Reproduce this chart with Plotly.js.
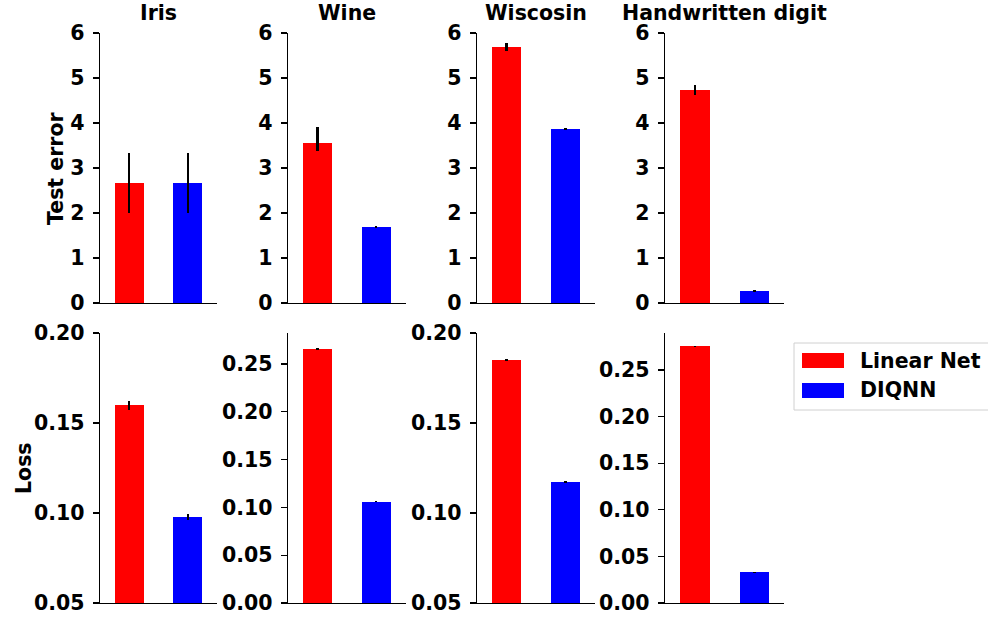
<!DOCTYPE html>
<html>
<head>
<meta charset="utf-8">
<script src="https://cdn.plot.ly/plotly-3.0.1.min.js"></script>
<style>html,body{margin:0;padding:0;background:#fff;}#chart{width:988px;height:617px;}</style>
</head>
<body>
<div id="chart"></div>
<script>
// ---- data ----
const datasets = ['Iris', 'Wine', 'Wiscosin', 'Handwritten digit'];
const seriesNames = ['Linear Net', 'DIQNN'];
const seriesColors = ['#ff0000', '#0000ff'];

const testErrLinear = [2.667, 3.556, 5.69, 4.73];
const testErrLinearPlus = [0.667, 0.36, 0.09, 0.11];
const testErrLinearMinus = [0.667, 0.18, 0.09, 0.11];
const testErrDiqnn = [2.667, 1.689, 3.86, 0.267];
const testErrDiqnnErr = [0.667, 0.02, 0.02, 0.02];

const lossLinear = [0.160, 0.266, 0.185, 0.2754];
const lossLinearErr = [0.0025, 0.001, 0.0003, 0.0005];
const lossDiqnn = [0.0978, 0.106, 0.1172, 0.033];
const lossDiqnnErr = [0.0018, 0.0005, 0.0005, 0.0005];

const testErrRange = [0, 6];
const lossRanges = [[0.05, 0.20], [0, 0.2824], [0.05, 0.20], [0, 0.2897]];
const rowLabels = ['Test error', 'Loss'];

// ---- layout geometry (pixels) ----
const W = 988, H = 617;
const colPx = [[100, 217], [288, 405.7], [477, 595], [665, 784.3]];
const rowPx = [[33, 303], [333, 603]];
const px = v => v / W;
const py = v => 1 - v / H;

const font = {family: 'DejaVu Sans', size: 20.5, color: '#000', weight: 'bold'};

const traces = [];
const layout = {
  width: W, height: H,
  margin: {l: 0, r: 0, t: 0, b: 0},
  paper_bgcolor: '#fff', plot_bgcolor: '#fff',
  showlegend: false,
  bargap: 0,
  font: font,
  annotations: [],
  shapes: []
};

function addPanel(idx, row, col, vals, errsPlus, errsMinus) {
  const n = idx + 1;
  const xa = 'x' + (n === 1 ? '' : n), ya = 'y' + (n === 1 ? '' : n);
  for (let s = 0; s < 2; s++) {
    traces.push({
      type: 'bar',
      x: [s], y: [vals[s]], width: 0.5,
      name: seriesNames[s],
      marker: {color: seriesColors[s], line: {width: 0}},
      error_y: {type: 'data', symmetric: false, array: [errsPlus[s]], arrayminus: [errsMinus[s]],
                width: 0, thickness: 2.2, color: '#000'},
      xaxis: xa, yaxis: ya, hoverinfo: 'y'
    });
  }
  const xKey = 'xaxis' + (n === 1 ? '' : n), yKey = 'yaxis' + (n === 1 ? '' : n);
  layout[xKey] = {
    domain: [px(colPx[col][0]), px(colPx[col][1])],
    anchor: ya, range: [-0.5, 1.5],
    showline: true, linecolor: '#000', linewidth: 1.3,
    showticklabels: false, ticks: '', showgrid: false, zeroline: false, fixedrange: true
  };
  const yr = row === 0 ? testErrRange : lossRanges[col];
  const yax = {
    domain: [py(rowPx[row][1]), py(rowPx[row][0])],
    anchor: xa, range: yr,
    showline: true, linecolor: '#000', linewidth: 1.3,
    ticks: 'outside', ticklen: 6, tickwidth: 1.3, tickcolor: '#000',
    showgrid: false, zeroline: false, fixedrange: true,
    tickfont: font, ticklabelstandoff: 4
  };
  if (row === 0) { yax.tickvals = [0, 1, 2, 3, 4, 5, 6]; }
  else { yax.tick0 = 0; yax.dtick = 0.05; yax.tickformat = '.2f'; }
  layout[yKey] = yax;
}

for (let c = 0; c < 4; c++) {
  addPanel(c, 0, c, [testErrLinear[c], testErrDiqnn[c]],
           [testErrLinearPlus[c], testErrDiqnnErr[c]],
           [testErrLinearMinus[c], testErrDiqnnErr[c]]);
  addPanel(c + 4, 1, c, [lossLinear[c], lossDiqnn[c]],
           [lossLinearErr[c], lossDiqnnErr[c]],
           [lossLinearErr[c], lossDiqnnErr[c]]);
  layout.annotations.push({
    text: datasets[c], xref: 'paper', yref: 'paper',
    x: px((colPx[c][0] + colPx[c][1]) / 2), y: py(12.5),
    xanchor: 'center', yanchor: 'middle', showarrow: false, font: font
  });
}

// row labels
layout.annotations.push({text: rowLabels[0], xref: 'paper', yref: 'paper', x: px(56), y: py(168),
  xanchor: 'center', yanchor: 'middle', textangle: -90, showarrow: false, font: font});
layout.annotations.push({text: rowLabels[1], xref: 'paper', yref: 'paper', x: px(24), y: py(468),
  xanchor: 'center', yanchor: 'middle', textangle: -90, showarrow: false, font: font});

// legend (custom, matplotlib style)
layout.shapes.push({type: 'rect', xref: 'paper', yref: 'paper',
  x0: px(794), x1: px(1000), y0: py(410), y1: py(343),
  line: {color: '#d0d0d0', width: 1}, fillcolor: 'rgba(255,255,255,0.8)'});
const legY = [[353, 368], [383, 398]];
for (let s = 0; s < 2; s++) {
  layout.shapes.push({type: 'rect', xref: 'paper', yref: 'paper',
    x0: px(802), x1: px(844), y0: py(legY[s][1]), y1: py(legY[s][0]),
    line: {width: 0}, fillcolor: seriesColors[s]});
  layout.annotations.push({text: seriesNames[s], xref: 'paper', yref: 'paper',
    x: px(858), y: py((legY[s][0] + legY[s][1]) / 2),
    xanchor: 'left', yanchor: 'middle', showarrow: false, font: font});
}

Plotly.newPlot('chart', traces, layout, {displayModeBar: false, staticPlot: true});
</script>
</body>
</html>
